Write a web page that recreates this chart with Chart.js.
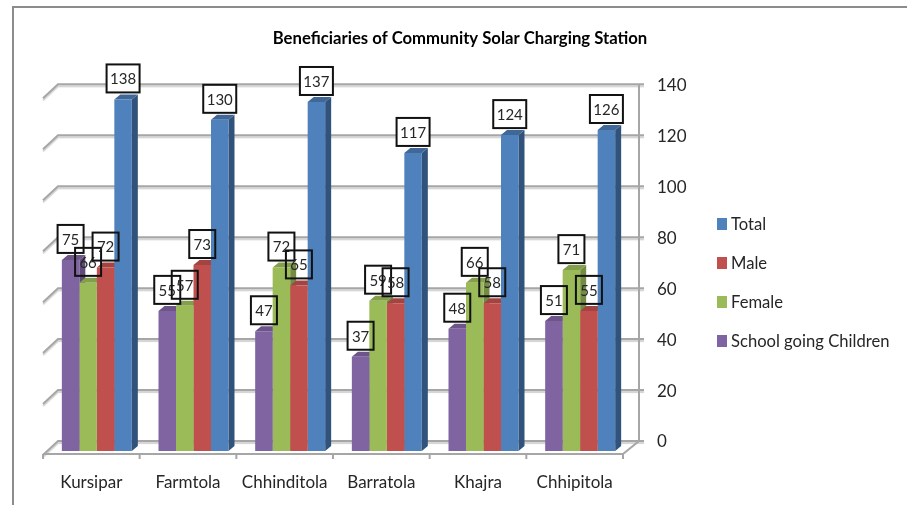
<!DOCTYPE html>
<html>
<head>
<meta charset="utf-8">
<style>
html, body { margin: 0; background: #fff; }
canvas { display: block; }
</style>
<script src="https://cdn.jsdelivr.net/npm/chart.js@4/dist/chart.umd.min.js"></script>
</head>
<body>
<canvas id="barChart" width="907" height="505"></canvas>
<script>
// Beneficiaries per village
const villages = ['Kursipar', 'Farmtola', 'Chhinditola', 'Barratola', 'Khajra', 'Chhipitola'];
const schoolChildren = [75, 55, 47, 37, 48, 51];
const female = [66, 57, 72, 59, 66, 71];
const male = [72, 73, 65, 58, 58, 55];
const total = [138, 130, 137, 117, 124, 126];
const yTicks = [0, 20, 40, 60, 80, 100, 120, 140];

const fontName = 'Lato, sans-serif';
const textColor = '#262626';
const gridColor = '#a6a6a6';

// faux 3D: bars sit between the front floor edge and the back wall
const barShift = { x: 5.5, y: 10 };
const depth = { x: 6, y: 5 };
const wall = { x: 15, y: 13, right: 639 };

const sideColors = ['#5f4a79', '#738b42', '#8f3b39', '#31527a'];
const topColors = ['#6d5489', '#849f4c', '#a34442', '#3f6797'];

function eachBar(chart, fn) {
    chart.data.datasets.forEach((ds, d) => {
        chart.getDatasetMeta(d).data.forEach((bar, i) => fn(bar, ds.data[i], d));
    });
}

function labelBox(bar, value) {
    const w = value >= 100 ? 33 : 26;
    const h = 28;
    const cx = bar.x + barShift.x;
    const bottom = bar.y + barShift.y - 7;
    return { x: cx - w / 2, y: bottom - h, w, h, cx };
}

const wallPlugin = {
    id: 'wall',
    beforeDatasetsDraw(chart) {
        const { ctx, chartArea } = chart;
        const y = chart.scales.y;
        const left = chartArea.left;
        const right = chartArea.right;
        const backLeft = left + wall.x;
        const floorY = y.getPixelForValue(0) + wall.y;

        ctx.save();
        ctx.strokeStyle = gridColor;
        ctx.lineWidth = 2;
        ctx.shadowColor = 'rgba(0,0,0,0.18)';
        ctx.shadowOffsetY = 2;
        ctx.shadowBlur = 1;
        yTicks.forEach(v => {
            const py = y.getPixelForValue(v);
            ctx.beginPath();
            ctx.moveTo(left, py + wall.y + 1);
            ctx.lineTo(backLeft, py);
            ctx.lineTo(wall.right + 5, py);
            ctx.stroke();
        });
        ctx.shadowColor = 'transparent';
        ctx.beginPath();
        ctx.moveTo(wall.right, y.getPixelForValue(140));
        ctx.lineTo(wall.right, y.getPixelForValue(0));
        ctx.lineTo(right, floorY);
        ctx.lineTo(left, floorY);
        ctx.stroke();
        for (let i = 0; i <= villages.length; i++) {
            const px = left + (right - left) * i / villages.length;
            ctx.beginPath();
            ctx.moveTo(px, floorY);
            ctx.lineTo(px, floorY + 5);
            ctx.stroke();
        }
        ctx.restore();

        // label backgrounds go under the bars
        ctx.save();
        ctx.fillStyle = '#fff';
        eachBar(chart, (bar, value) => {
            const b = labelBox(bar, value);
            ctx.fillRect(b.x, b.y, b.w, b.h);
        });
        ctx.restore();

        // side and top faces, front faces are drawn by the library afterwards
        ctx.save();
        ctx.translate(barShift.x, barShift.y);
        eachBar(chart, (bar, value, d) => {
            const l = bar.x - bar.width / 2;
            const r = bar.x + bar.width / 2;
            ctx.fillStyle = sideColors[d];
            ctx.beginPath();
            ctx.moveTo(r, bar.y);
            ctx.lineTo(r + depth.x, bar.y - depth.y);
            ctx.lineTo(r + depth.x, bar.base - depth.y);
            ctx.lineTo(r, bar.base);
            ctx.closePath();
            ctx.fill();
            ctx.fillStyle = topColors[d];
            ctx.beginPath();
            ctx.moveTo(l, bar.y);
            ctx.lineTo(l + depth.x, bar.y - depth.y);
            ctx.lineTo(r + depth.x, bar.y - depth.y);
            ctx.lineTo(r, bar.y);
            ctx.closePath();
            ctx.fill();
        });
        ctx.restore();

        ctx.save();
        ctx.translate(barShift.x, barShift.y);
    },
    afterDatasetsDraw(chart) {
        const { ctx } = chart;
        ctx.restore();

        ctx.save();
        ctx.strokeStyle = '#111';
        ctx.lineWidth = 2;
        ctx.fillStyle = textColor;
        ctx.font = '15px ' + fontName;
        ctx.textAlign = 'center';
        ctx.textBaseline = 'middle';
        eachBar(chart, (bar, value) => {
            const b = labelBox(bar, value);
            ctx.strokeRect(b.x, b.y, b.w, b.h);
            ctx.fillText(value, b.cx, b.y + b.h / 2 + 1);
        });
        ctx.restore();
    }
};

// frame of the original figure and the legend on the right
const framePlugin = {
    id: 'frame',
    afterDraw(chart) {
        const { ctx } = chart;
        ctx.save();
        ctx.strokeStyle = '#8c8c8c';
        ctx.lineWidth = 2;
        ctx.beginPath();
        ctx.moveTo(13, 505);
        ctx.lineTo(13, 7);
        ctx.lineTo(907, 7);
        ctx.stroke();

        ctx.font = '16.6px ' + fontName;
        ctx.textBaseline = 'middle';
        chart.data.datasets.slice().reverse().forEach((ds, i) => {
            const y = 224 + i * 39;
            ctx.fillStyle = ds.backgroundColor;
            ctx.fillRect(717, y - 6, 10, 12);
            ctx.fillStyle = textColor;
            ctx.fillText(ds.label, 731, y + 1);
        });
        ctx.restore();
    }
};

new Chart(document.getElementById('barChart').getContext('2d'), {
    type: 'bar',
    data: {
        labels: villages,
        datasets: [
            { label: 'School going Children', data: schoolChildren, backgroundColor: '#8064a2' },
            { label: 'Female', data: female, backgroundColor: '#9bbb59' },
            { label: 'Male', data: male, backgroundColor: '#c0504d' },
            { label: 'Total', data: total, backgroundColor: '#4f81bd' }
        ]
    },
    options: {
        responsive: false,
        animation: false,
        clip: false,
        barPercentage: 1,
        categoryPercentage: 0.724,
        layout: { padding: { left: 13 } },
        plugins: {
            legend: { display: false },
            tooltip: { enabled: false },
            title: {
                display: true,
                text: 'Beneficiaries of Community Solar Charging Station',
                color: '#000',
                font: { family: fontName, size: 16.7, weight: 'bold' },
                padding: { top: 29, bottom: 35.3 }
            }
        },
        scales: {
            x: {
                grid: { display: false, drawTicks: false },
                border: { display: false },
                ticks: {
                    color: textColor,
                    font: { family: fontName, size: 17 },
                    padding: 31,
                    maxRotation: 0,
                    autoSkip: false
                },
                afterFit(scale) { scale.height = 64; }
            },
            y: {
                position: 'right',
                min: 0,
                max: 140,
                grid: { display: false, drawTicks: false },
                border: { display: false },
                afterBuildTicks(scale) { scale.ticks = yTicks.map(value => ({ value })); },
                ticks: {
                    color: textColor,
                    font: { family: fontName, size: 17 },
                    padding: 34,
                    labelOffset: 1
                },
                afterFit(scale) { scale.width = 284; }
            },
            // empty axis, keeps the plot clear of the frame
            spacer: {
                position: 'left',
                grid: { display: false, drawTicks: false },
                border: { display: false },
                ticks: { display: false },
                afterFit(scale) { scale.width = 30; }
            }
        }
    },
    plugins: [wallPlugin, framePlugin]
});
</script>
</body>
</html>
